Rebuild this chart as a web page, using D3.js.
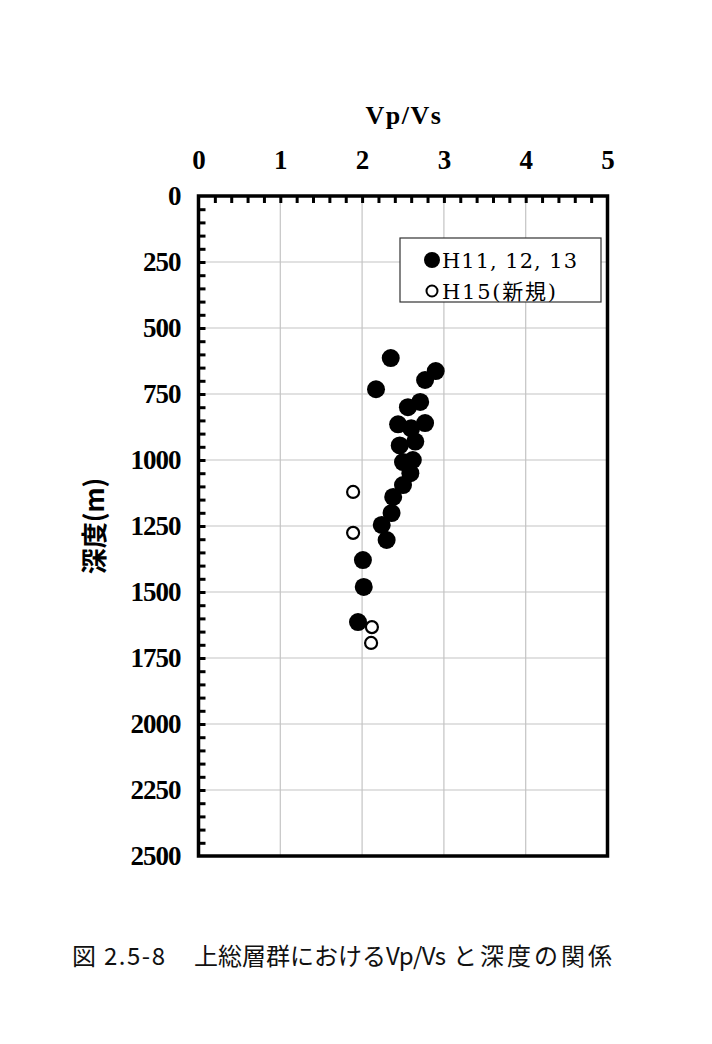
<!DOCTYPE html>
<html>
<head>
<meta charset="utf-8">
<script src="https://cdn.jsdelivr.net/npm/d3@7"></script>
<style>
  body { margin: 0; background: #fff; }
  svg { display: block; }
</style>
</head>
<body>
<svg id="chart" width="712" height="1044"></svg>
<script>
// H11, 12, 13 (filled) : Vp/Vs ratio and depth (m)
var oldVpVs  = [2.35, 2.90, 2.77, 2.17, 2.71, 2.56, 2.44, 2.77, 2.60, 2.65, 2.46, 2.50, 2.62, 2.59, 2.50, 2.38, 2.36, 2.24, 2.30, 2.01, 2.02, 1.95];
var oldDepth = [614, 663, 697, 732, 780, 800, 865, 860, 880, 930, 945, 1008, 1000, 1050, 1095, 1140, 1201, 1246, 1303, 1379, 1481, 1614];

// H15 (new) : open circles
var newVpVs  = [1.89, 1.89, 2.12, 2.11];
var newDepth = [1121, 1276, 1633, 1693];

var xTicks = [0, 1, 2, 3, 4, 5];
var yTicks = [0, 250, 500, 750, 1000, 1250, 1500, 1750, 2000, 2250, 2500];
var legendLabels = ["H11, 12, 13", "H15(新規)"];

var svg = d3.select("#chart");

// scales
var x = d3.scaleLinear().domain([0, 5]).range([198.5, 607.5]);
var y = d3.scaleLinear().domain([0, 2500]).range([196, 856]);

var serif = "'Liberation Serif', 'Times New Roman', serif";
var gothic = "'Noto Sans CJK JP', sans-serif";

// grid lines
svg.append("g")
  .selectAll("line")
  .data(xTicks.slice(1, -1))
  .enter()
  .append("line")
    .attr("x1", function(d){ return x(d) })
    .attr("x2", function(d){ return x(d) })
    .attr("y1", y(0))
    .attr("y2", y(2500))
    .attr("stroke", "#c4c4c4")
    .attr("stroke-width", 1.2)

svg.append("g")
  .selectAll("line")
  .data(yTicks.slice(1, -1))
  .enter()
  .append("line")
    .attr("x1", x(0))
    .attr("x2", x(5))
    .attr("y1", function(d){ return y(d) })
    .attr("y2", function(d){ return y(d) })
    .attr("stroke", "#c4c4c4")
    .attr("stroke-width", 1.2)

// minor ticks pointing into the plot
var topTicks = d3.axisTop(x)
  .tickValues(d3.range(1, 25).map(function(i){ return i / 5 }))
  .tickSize(-7)
  .tickFormat("");
var gTop = svg.append("g").attr("transform", "translate(0," + y(0) + ")").call(topTicks);
gTop.select(".domain").remove();
gTop.selectAll("line").attr("stroke", "#000").attr("stroke-width", 3);

var leftTicks = d3.axisLeft(y)
  .tickValues(d3.range(1, 50).map(function(i){ return i * 50 }))
  .tickSize(-7)
  .tickFormat("");
var gLeft = svg.append("g").attr("transform", "translate(" + x(0) + ",0)").call(leftTicks);
gLeft.select(".domain").remove();
gLeft.selectAll("line").attr("stroke", "#000").attr("stroke-width", 3);

// tick labels
var gxLab = svg.append("g")
  .attr("transform", "translate(0," + y(0) + ")")
  .call(d3.axisTop(x).tickValues(xTicks).tickSize(0).tickPadding(27).tickFormat(d3.format("d")));
gxLab.select(".domain").remove();
gxLab.selectAll("text")
  .attr("font-family", serif)
  .attr("font-weight", "bold")
  .attr("font-size", 27)
  .attr("fill", "#000");

var gyLab = svg.append("g")
  .attr("transform", "translate(" + x(0) + ",0)")
  .call(d3.axisLeft(y).tickValues(yTicks).tickSize(0).tickPadding(18).tickFormat(d3.format("d")));
gyLab.select(".domain").remove();
gyLab.selectAll("text")
  .attr("font-family", serif)
  .attr("font-weight", "bold")
  .attr("font-size", 27)
  .attr("letter-spacing", -1)
  .attr("fill", "#000");

// frame
svg.append("rect")
  .attr("x", x(0))
  .attr("y", y(0))
  .attr("width", x(5) - x(0))
  .attr("height", y(2500) - y(0))
  .attr("fill", "none")
  .attr("stroke", "#000")
  .attr("stroke-width", 3.5)

// axis titles
svg.append("text")
  .attr("x", 404)
  .attr("y", 124)
  .attr("text-anchor", "middle")
  .attr("font-family", serif)
  .attr("font-weight", "bold")
  .attr("font-size", 26)
  .attr("letter-spacing", 1.5)
  .text("Vp/Vs")

svg.append("text")
  .attr("transform", "translate(104,526) rotate(-90)")
  .attr("text-anchor", "middle")
  .attr("font-family", gothic)
  .attr("font-weight", "bold")
  .attr("font-size", 26)
  .text("深度(m)")

// points
var oldData = oldVpVs.map(function(v, i){ return {v: v, d: oldDepth[i]} });
var newData = newVpVs.map(function(v, i){ return {v: v, d: newDepth[i]} });

svg.append("g")
  .selectAll("circle")
  .data(oldData)
  .enter()
  .append("circle")
    .attr("cx", function(d){ return x(d.v) })
    .attr("cy", function(d){ return y(d.d) })
    .attr("r", 9)
    .attr("fill", "#000")

svg.append("g")
  .selectAll("circle")
  .data(newData)
  .enter()
  .append("circle")
    .attr("cx", function(d){ return x(d.v) })
    .attr("cy", function(d){ return y(d.d) })
    .attr("r", 6)
    .attr("fill", "#fff")
    .attr("stroke", "#000")
    .attr("stroke-width", 2.2)

// legend
var lg = svg.append("g");
lg.append("rect")
  .attr("x", 400)
  .attr("y", 238)
  .attr("width", 201)
  .attr("height", 64)
  .attr("fill", "#fff")
  .attr("stroke", "#333")
  .attr("stroke-width", 1.2)
lg.append("circle").attr("cx", 432).attr("cy", 260).attr("r", 8).attr("fill", "#000")
lg.append("circle").attr("cx", 432).attr("cy", 291).attr("r", 5.5).attr("fill", "#fff").attr("stroke", "#000").attr("stroke-width", 2)
lg.selectAll("text.lab")
  .data(legendLabels)
  .enter()
  .append("text")
    .attr("class", "lab")
    .attr("x", 442)
    .attr("y", function(d, i){ return 268 + i * 31 })
    .attr("font-family", "'DejaVu Serif', " + gothic)
    .attr("font-size", 21)
    .attr("textLength", function(d, i){ return i === 0 ? 135 : 114 })
    .attr("lengthAdjust", "spacing")
    .text(function(d){ return d })

// caption
var cap = svg.append("g")
  .attr("font-family", gothic)
  .attr("font-size", 24)
  .attr("fill", "#111");
cap.append("text").attr("x", 72).attr("y", 965).text("図");
cap.append("text").attr("x", 104).attr("y", 965).attr("textLength", 61).attr("lengthAdjust", "spacing").text("2.5-8");
cap.append("text").attr("x", 194).attr("y", 965).text("上総層群における");
cap.append("text").attr("x", 386).attr("y", 965).attr("textLength", 60).attr("lengthAdjust", "spacing").text("Vp/Vs");
cap.append("text").attr("x", 453).attr("y", 965).attr("letter-spacing", 3).text("と深度の関係");
</script>
</body>
</html>
